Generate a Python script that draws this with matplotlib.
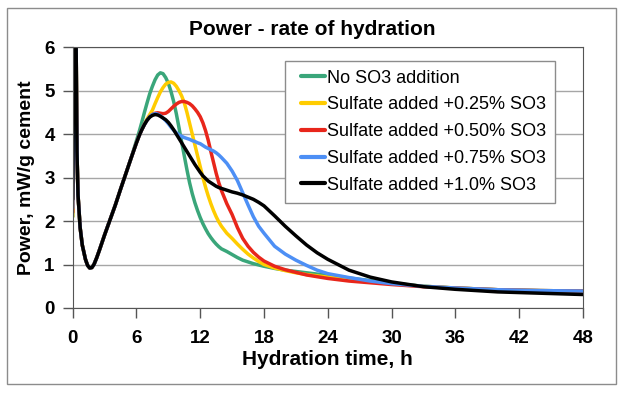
import matplotlib
matplotlib.use("Agg")
import matplotlib.pyplot as plt
from matplotlib.patches import Rectangle
from matplotlib.lines import Line2D
from matplotlib.legend_handler import HandlerLine2D

plt.rcParams['font.family'] = ['Liberation Sans', 'DejaVu Sans']

# hydration time, h
t = [0, 0.15, 0.3, 0.4, 0.5, 0.7, 0.9, 1.2, 1.4, 1.6, 1.8, 2.0, 2.25, 2.5, 3.0, 3.5, 4.0, 4.5,
     5.0, 5.5,
     6.0, 6.25, 6.5, 6.75, 7.0, 7.25, 7.5, 7.75, 8.0, 8.25, 8.5, 8.75, 9.0, 9.25, 9.5, 9.75,
     10.0, 10.25, 10.5, 10.75, 11.0, 11.25, 11.5, 11.75, 12.0, 12.25, 12.5, 12.75, 13.0,
     13.25, 13.5, 13.75, 14.0,
     14.5, 15.0, 15.5, 16.0, 16.5, 17.0, 17.5, 18.0,
     19.0, 20.0, 21.0, 22.0, 23.0, 24.0, 26.0, 28.0, 30.0, 33.0, 36.0, 40.0, 44.0, 48.0]

# first hours are the same for all mixes (0.15 .. 5.5 h)
head = [7.5, 6.8, 3.6, 2.6, 1.85, 1.45, 1.12, 0.98, 0.92, 0.93, 1.0, 1.15, 1.32, 1.68, 2.02,
        2.36, 2.73, 3.09, 3.45]

no_so3 = [2.1] + head + [
    3.85, 4.05, 4.27, 4.5, 4.72, 4.93, 5.1, 5.25, 5.36, 5.41, 5.39, 5.3, 5.17, 4.98, 4.75, 4.47,
    4.15, 3.82, 3.5, 3.18, 2.88, 2.63, 2.42, 2.24, 2.08, 1.94, 1.82, 1.71, 1.62, 1.54, 1.47, 1.41,
    1.36,
    1.3, 1.23, 1.16, 1.1, 1.06, 1.02, 0.99, 0.96,
    0.91, 0.87, 0.84, 0.81, 0.78, 0.75, 0.69, 0.63, 0.57, 0.5, 0.46, 0.42, 0.4, 0.39]
so3_025 = [2.1] + head + [
    3.8, 3.96, 4.1, 4.23, 4.35, 4.45, 4.55, 4.7, 4.84, 4.97, 5.07, 5.15, 5.19, 5.2, 5.17, 5.1,
    5.0, 4.88, 4.72, 4.5, 4.25, 4.0, 3.75, 3.5, 3.25, 3.0, 2.78, 2.58, 2.4, 2.24, 2.1, 1.98,
    1.88,
    1.72, 1.6, 1.47, 1.35, 1.24, 1.15, 1.07, 1.0,
    0.92, 0.86, 0.81, 0.77, 0.74, 0.71, 0.66, 0.61, 0.56, 0.5, 0.46, 0.42, 0.4, 0.39]
so3_050 = [2.2] + head + [
    3.8, 3.96, 4.1, 4.22, 4.32, 4.4, 4.45, 4.48, 4.49, 4.48, 4.47, 4.48, 4.52, 4.58, 4.64, 4.69,
    4.73, 4.75, 4.75, 4.73, 4.7, 4.65, 4.58, 4.5, 4.4, 4.26, 4.08, 3.86, 3.6, 3.35, 3.1, 2.88,
    2.7,
    2.4, 2.15, 1.85, 1.6, 1.42, 1.28, 1.17, 1.08,
    0.96, 0.88, 0.82, 0.76, 0.72, 0.68, 0.62, 0.58, 0.54, 0.49, 0.46, 0.42, 0.4, 0.39]
so3_075 = [2.3] + head + [
    3.8, 3.96, 4.1, 4.22, 4.32, 4.4, 4.45, 4.47, 4.46, 4.42, 4.37, 4.31, 4.24, 4.16, 4.09, 4.03,
    3.98, 3.95, 3.92, 3.9, 3.88, 3.85, 3.83, 3.8, 3.78, 3.74, 3.7, 3.67, 3.64, 3.61, 3.57, 3.52,
    3.46,
    3.33, 3.15, 2.93, 2.65, 2.37, 2.1, 1.88, 1.72,
    1.42, 1.24, 1.1, 0.98, 0.87, 0.79, 0.7, 0.62, 0.56, 0.5, 0.46, 0.42, 0.4, 0.39]
so3_100 = [2.5] + head + [
    3.8, 3.96, 4.1, 4.22, 4.32, 4.39, 4.43, 4.45, 4.44, 4.41, 4.37, 4.33, 4.27, 4.19, 4.1, 4.0,
    3.9, 3.8, 3.7, 3.6, 3.5, 3.4, 3.3, 3.21, 3.12, 3.04, 2.98, 2.92, 2.88, 2.84, 2.8, 2.77,
    2.75,
    2.71, 2.67, 2.64, 2.6, 2.55, 2.5, 2.43, 2.35,
    2.12, 1.88, 1.66, 1.45, 1.27, 1.12, 0.87, 0.71, 0.6, 0.49, 0.43, 0.37, 0.34, 0.31]

labels = ["No SO3 addition", "Sulfate added +0.25% SO3", "Sulfate added +0.50% SO3",
          "Sulfate added +0.75% SO3", "Sulfate added +1.0% SO3"]
colors = ["#3aa67a", "#ffcc00", "#e8261b", "#4d8ff5", "#000000"]

fig = plt.figure(figsize=(6.24, 3.93), dpi=100)
ax = fig.add_axes([0.1165, 0.2163, 0.8175, 0.6637])

# gray frame round the whole chart
fig.patches.append(Rectangle((7 / 624, 1 - 384 / 393), 609 / 624, 376 / 393, transform=fig.transFigure,
                             fill=False, edgecolor="#8c8c8c", linewidth=1))

for y, lab, c in zip([no_so3, so3_025, so3_050, so3_075, so3_100], labels, colors):
    ax.plot(t, y, color=c, lw=2.5, label=lab, solid_joinstyle="round", solid_capstyle="round")

ax.set_xlim(0, 48)
ax.set_ylim(0, 6)
ax.set_xticks(range(0, 49, 6))
ax.set_yticks(range(0, 7))
ax.grid(axis="y", color="#a6a6a6", lw=1)
ax.set_axisbelow(True)
for s in ax.spines.values():
    s.set_color("#555555")
ax.tick_params(direction="out", length=7, width=1, colors="#555555", labelcolor="black",
               labelsize=13.5)
for lbl in ax.get_xticklabels() + ax.get_yticklabels():
    lbl.set_fontweight("bold")
ax.tick_params(axis="x", pad=9)
ax.tick_params(axis="y", pad=6)

ax.set_xlabel("Hydration time, h", fontsize=15, fontweight="bold", labelpad=2)
ax.set_ylabel("Power, mW/g cement", fontsize=14, fontweight="bold", labelpad=7)
fig.text(0.5, 0.925, "Power - rate of hydration", ha="center", va="center",
         fontsize=15, fontweight="bold")

leg = ax.legend(loc="upper left", bbox_to_anchor=(284.7 / 624, 1 - 60.7 / 393),
                bbox_transform=fig.transFigure, borderaxespad=0, fancybox=False,
                edgecolor="#8c8c8c", framealpha=1, fontsize=13, handlelength=1.75,
                handletextpad=0.08, labelspacing=0.54, borderpad=0.5,
                handler_map={Line2D: HandlerLine2D(xpad=0.4)})
leg.get_frame().set_linewidth(1)
for ln in leg.get_lines():
    ln.set_linewidth(3)

fig.savefig("out.png", dpi=100)
